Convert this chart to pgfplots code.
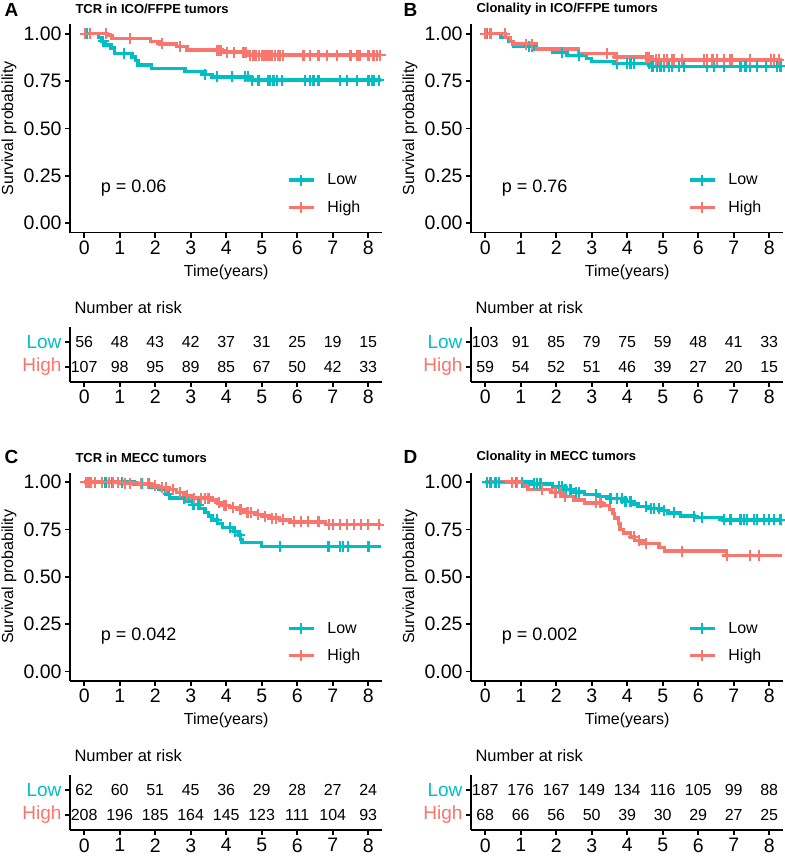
\documentclass[border=0pt]{standalone}
\usepackage{pgfplots}
\pgfplotsset{compat=1.18}
\usepackage{fontspec}
\setmainfont{Liberation Sans}
\definecolor{kmlow}{HTML}{00BFC4}
\definecolor{kmhigh}{HTML}{F8766D}
\newcommand\fs[1]{\fontsize{#1}{#1}\selectfont}

\pgfplotsset{
  base/.style={scale only axis, width=312.4pt, xmin=-0.4, xmax=8.4, clip=false,
    axis lines=left, axis line style={-, line width=1.6pt, black},
    xtick={0,...,8}, tick style={line width=1.6pt, black},
    major tick length=5pt, tick align=outside,
    ticklabel style={font=\fs{19.5}},
    /pgf/number format/assume math mode=true},
  km/.style={base, height=208.2pt, ymin=-0.05, ymax=1.05,
    ytick={0,0.25,0.5,0.75,1}, yticklabels={0.00,0.25,0.50,0.75,1.00},
    xlabel={Time(years)}, ylabel={Survival probability},
    every axis y label/.style={at={(axis description cs:-0.1953,0.5)}, rotate=90, anchor=center, font=\fs{16}},
    every axis x label/.style={at={(axis description cs:0.5,0)}, anchor=center, yshift=-39.5pt, font=\fs{16}},
    every axis title/.style={at={(axis description cs:0,1)}, anchor=west, xshift=2pt, yshift=15pt, font=\fs{13}\bfseries},
    legend style={draw=none, fill=none, inner sep=0pt, at={(axis description cs:0.694,0.292)},
      anchor=north west, font=\fs{16}, row sep=10.5pt, column sep=10pt},
    legend cell align=left,
    legend image code/.code={\draw[mark repeat=2, mark phase=2, #1] plot coordinates {(0pt,0pt) (12.5pt,0pt) (25pt,0pt)};}},
  risk/.style={base, height=55pt, ymin=0.4, ymax=2.6,
    ytick={1,2}, yticklabels={\textcolor{kmhigh}{High},\textcolor{kmlow}{Low}},
    yticklabel style={font=\fs{19}},
    title={Number at risk},
    every axis title/.style={at={(axis description cs:0,1)}, anchor=west, xshift=1pt, yshift=19pt, font=\fs{16.5}},
    nodes near coords, point meta=explicit symbolic,
    nodes near coords align={center},
    every node near coord/.append style={font=\fs{16}, text=black, anchor=center}},
  nums/.style={only marks, mark=o, mark size=0pt, mark options={draw opacity=0}},
  lowline/.style={kmlow, line width=3.4pt, const plot, no markers, forget plot},
  highline/.style={kmhigh, line width=3.4pt, const plot, no markers, forget plot},
  lowcens/.style={kmlow, only marks, mark=+, mark size=5.5pt, line width=2.2pt, forget plot},
  highcens/.style={kmhigh, only marks, mark=+, mark size=5.5pt, line width=2.2pt, forget plot},
  lowkey/.style={kmlow, line width=3.4pt, mark=+, mark size=5.5pt, mark options={line width=2.2pt}},
  highkey/.style={kmhigh, line width=3.4pt, mark=+, mark size=5.5pt, mark options={line width=2.2pt}},
}

\begin{document}
\begin{tikzpicture}
\useasboundingbox (0pt,0pt) rectangle (784pt,-861pt);

% ---------- A ----------
\begin{axis}[km, at={(70pt,-232.5pt)}, anchor=south west, title={TCR in ICO/FFPE tumors}]
\addlegendimage{lowkey}\addlegendentry{Low}
\addlegendimage{highkey}\addlegendentry{High}
\addplot[lowline] coordinates {(0,1)(0.40,0.98)(0.5,0.96)(0.6,0.94)(0.75,0.925)(0.85,0.895)(1.35,0.877)(1.45,0.86)(1.52,0.835)(1.9,0.818)(2.84,0.80)(3.41,0.785)(3.6,0.772)(4.72,0.755)(8.35,0.755)};
\addplot[lowcens] coordinates {(0.07,1)(0.54,0.96)(1.11,0.895)(3.41,0.785)(3.74,0.772)(4.16,0.772)(4.53,0.772)(4.62,0.772)(4.72,0.755)(4.91,0.755)(5.19,0.755)(5.24,0.755)(5.33,0.755)(5.43,0.755)(5.57,0.755)(6.22,0.755)(6.37,0.755)(6.46,0.755)(6.6,0.755)(7.21,0.755)(7.4,0.755)(7.68,0.755)(8.01,0.755)(8.1,0.755)(8.15,0.755)(8.3,0.755)};
\addplot[highline] coordinates {(0,1)(0.66,0.99)(0.78,0.975)(1.86,0.958)(2.14,0.946)(2.6,0.932)(2.9,0.914)(3.9,0.903)(4.6,0.887)(8.35,0.887)};
\addplot[highcens] coordinates {(0.03,1)(0.17,1)(0.62,1)(1.3,0.975)(2.19,0.946)(2.7,0.932)(3.74,0.914)(3.8,0.914)(3.85,0.914)(4.02,0.903)(4.21,0.903)(4.49,0.903)(4.55,0.903)(4.68,0.887)(4.77,0.887)(4.85,0.887)(4.92,0.887)(5.0,0.887)(5.08,0.887)(5.15,0.887)(5.22,0.887)(5.3,0.887)(5.38,0.887)(5.45,0.887)(5.52,0.887)(5.6,0.887)(6.18,0.887)(6.37,0.887)(6.6,0.887)(6.84,0.887)(7.12,0.887)(7.5,0.887)(7.7,0.887)(7.78,0.887)(8.01,0.887)(8.15,0.887)(8.25,0.887)(8.34,0.887)};
\node[anchor=west, font=\fs{18}] at (axis cs:0.37,0.185) {p = 0.06};
\end{axis}
\begin{axis}[risk, at={(70pt,-381.7pt)}, anchor=south west]
\addplot[nums] coordinates {(0,2)[56](1,2)[48](2,2)[43](3,2)[42](4,2)[37](5,2)[31](6,2)[25](7,2)[19](8,2)[15]};
\addplot[nums] coordinates {(0,1)[107](1,1)[98](2,1)[95](3,1)[89](4,1)[85](5,1)[67](6,1)[50](7,1)[42](8,1)[33]};
\end{axis}

% ---------- B ----------
\begin{axis}[km, at={(471pt,-232.5pt)}, anchor=south west, title={Clonality in ICO/FFPE tumors}]
\addlegendimage{lowkey}\addlegendentry{Low}
\addlegendimage{highkey}\addlegendentry{High}
\addplot[lowline] coordinates {(0,1)(0.45,0.98)(0.65,0.96)(0.8,0.935)(1.4,0.92)(1.9,0.90)(2.3,0.885)(2.85,0.87)(3.0,0.853)(3.7,0.843)(4.65,0.828)(8.35,0.828)};
\addplot[lowcens] coordinates {(0.06,1)(0.15,1)(1.23,0.935)(1.32,0.935)(2.17,0.90)(2.64,0.885)(3.72,0.843)(4.0,0.843)(4.09,0.843)(4.19,0.843)(4.61,0.843)(4.71,0.828)(4.85,0.828)(4.94,0.828)(5.03,0.828)(5.17,0.828)(5.27,0.828)(5.46,0.828)(5.6,0.828)(6.25,0.828)(6.44,0.828)(6.72,0.828)(7.19,0.828)(7.33,0.828)(7.47,0.828)(7.66,0.828)(7.9,0.828)(8.23,0.828)(8.32,0.828)};
\addplot[highline] coordinates {(0,1)(0.57,0.98)(0.72,0.96)(0.78,0.945)(1.45,0.92)(2.62,0.895)(3.65,0.877)(4.7,0.862)(8.35,0.862)};
\addplot[highcens] coordinates {(0.01,1)(0.15,1)(0.55,1)(1.14,0.945)(1.32,0.945)(3.44,0.895)(3.72,0.877)(4.52,0.877)(4.56,0.877)(4.61,0.877)(4.8,0.862)(4.9,0.862)(5.03,0.862)(5.13,0.862)(5.27,0.862)(5.31,0.862)(5.55,0.862)(6.16,0.862)(6.25,0.862)(6.4,0.862)(6.54,0.862)(6.72,0.862)(6.91,0.862)(6.96,0.862)(7.47,0.862)(8.04,0.862)(8.13,0.862)(8.27,0.862)};
\node[anchor=west, font=\fs{18}] at (axis cs:0.37,0.185) {p = 0.76};
\end{axis}
\begin{axis}[risk, at={(471pt,-381.7pt)}, anchor=south west]
\addplot[nums] coordinates {(0,2)[103](1,2)[91](2,2)[85](3,2)[79](4,2)[75](5,2)[59](6,2)[48](7,2)[41](8,2)[33]};
\addplot[nums] coordinates {(0,1)[59](1,1)[54](2,1)[52](3,1)[51](4,1)[46](5,1)[39](6,1)[27](7,1)[20](8,1)[15]};
\end{axis}

% ---------- C ----------
\begin{axis}[km, at={(70pt,-680.8pt)}, anchor=south west, title={TCR in MECC tumors}]
\addlegendimage{lowkey}\addlegendentry{Low}
\addlegendimage{highkey}\addlegendentry{High}
\addplot[lowline] coordinates {(0,1)(1.4,0.99)(1.9,0.975)(2.1,0.96)(2.3,0.935)(2.4,0.915)(2.9,0.90)(3.05,0.88)(3.25,0.86)(3.4,0.84)(3.5,0.82)(3.6,0.80)(3.75,0.78)(3.9,0.76)(4.2,0.74)(4.35,0.72)(4.4,0.695)(4.45,0.68)(5.0,0.66)(8.35,0.66)};
\addplot[lowcens] coordinates {(0.3,1)(0.6,1)(0.78,1)(1.06,1)(1.62,0.99)(1.81,0.99)(2.38,0.935)(2.8,0.915)(3.08,0.88)(3.22,0.88)(3.74,0.80)(4.11,0.76)(4.25,0.74)(4.38,0.72)(5.52,0.66)(6.88,0.66)(7.21,0.66)(7.3,0.66)(7.44,0.66)(8.01,0.66)};
\addplot[highline] coordinates {(0,1)(1.0,0.995)(1.5,0.99)(1.9,0.98)(2.1,0.97)(2.4,0.96)(2.6,0.945)(2.8,0.93)(3.0,0.915)(3.6,0.905)(3.75,0.89)(3.9,0.875)(4.1,0.865)(4.3,0.855)(4.5,0.84)(4.8,0.83)(5.0,0.82)(5.2,0.81)(5.5,0.80)(5.8,0.79)(6.8,0.775)(8.35,0.775)};
\addplot[highcens] coordinates {(0.05,1)(0.12,1)(0.2,1)(0.3,1)(0.5,1)(0.7,1)(0.8,1)(0.95,1)(1.15,0.995)(1.3,0.995)(1.6,0.99)(1.8,0.99)(2.0,0.98)(2.2,0.97)(2.3,0.97)(2.5,0.96)(2.7,0.945)(2.9,0.93)(3.1,0.915)(3.3,0.915)(3.4,0.915)(3.5,0.915)(3.8,0.89)(3.95,0.875)(4.0,0.875)(4.2,0.865)(4.4,0.855)(4.6,0.84)(4.7,0.84)(4.9,0.83)(5.1,0.82)(5.3,0.81)(5.4,0.81)(5.6,0.80)(5.9,0.79)(6.1,0.79)(6.3,0.79)(6.6,0.79)(6.9,0.775)(7.0,0.775)(7.2,0.775)(7.4,0.775)(7.6,0.775)(7.8,0.775)(8.0,0.775)(8.3,0.775)};
\node[anchor=west, font=\fs{18}] at (axis cs:0.37,0.185) {p = 0.042};
\end{axis}
\begin{axis}[risk, at={(70pt,-830pt)}, anchor=south west]
\addplot[nums] coordinates {(0,2)[62](1,2)[60](2,2)[51](3,2)[45](4,2)[36](5,2)[29](6,2)[28](7,2)[27](8,2)[24]};
\addplot[nums] coordinates {(0,1)[208](1,1)[196](2,1)[185](3,1)[164](4,1)[145](5,1)[123](6,1)[111](7,1)[104](8,1)[93]};
\end{axis}

% ---------- D ----------
\begin{axis}[km, at={(471pt,-680.8pt)}, anchor=south west, title={Clonality in MECC tumors}]
\addlegendimage{lowkey}\addlegendentry{Low}
\addlegendimage{highkey}\addlegendentry{High}
\addplot[lowline] coordinates {(0,1)(1.3,0.99)(1.9,0.975)(2.2,0.96)(2.5,0.947)(2.8,0.935)(3.2,0.925)(3.5,0.912)(3.9,0.897)(4.1,0.885)(4.3,0.87)(4.6,0.86)(4.9,0.85)(5.15,0.837)(5.5,0.82)(5.9,0.812)(6.7,0.80)(8.35,0.80)};
\addplot[lowcens] coordinates {(0.06,1)(0.15,1)(0.29,1)(0.39,1)(0.86,1)(1.04,1)(1.37,0.99)(1.47,0.99)(1.56,0.99)(2.08,0.975)(2.17,0.975)(2.26,0.96)(2.4,0.96)(2.55,0.947)(2.64,0.947)(3.11,0.935)(3.53,0.912)(3.72,0.912)(3.86,0.912)(3.95,0.897)(4.09,0.897)(4.52,0.87)(4.66,0.86)(4.75,0.86)(4.89,0.86)(5.03,0.85)(5.32,0.837)(5.88,0.82)(6.11,0.812)(6.72,0.80)(6.91,0.80)(7.19,0.80)(7.29,0.80)(7.38,0.80)(7.57,0.80)(7.66,0.80)(7.85,0.80)(7.99,0.80)(8.13,0.80)(8.32,0.80)};
\addplot[highline] coordinates {(0,1)(1.05,0.98)(1.2,0.96)(1.85,0.945)(2.2,0.925)(2.5,0.905)(2.8,0.89)(3.3,0.875)(3.5,0.855)(3.6,0.835)(3.65,0.81)(3.75,0.78)(3.8,0.75)(3.9,0.73)(4.1,0.71)(4.2,0.69)(4.5,0.675)(4.9,0.655)(5.05,0.635)(6.8,0.612)(8.35,0.612)};
\addplot[highcens] coordinates {(0.76,1)(0.9,1)(1.61,0.96)(1.98,0.945)(2.12,0.945)(2.25,0.925)(3.11,0.89)(3.25,0.89)(4.19,0.71)(4.33,0.69)(4.52,0.675)(5.55,0.635)(6.82,0.612)(7.47,0.612)(7.71,0.612)};
\node[anchor=west, font=\fs{18}] at (axis cs:0.37,0.185) {p = 0.002};
\end{axis}
\begin{axis}[risk, at={(471pt,-830pt)}, anchor=south west]
\addplot[nums] coordinates {(0,2)[187](1,2)[176](2,2)[167](3,2)[149](4,2)[134](5,2)[116](6,2)[105](7,2)[99](8,2)[88]};
\addplot[nums] coordinates {(0,1)[68](1,1)[66](2,1)[56](3,1)[50](4,1)[39](5,1)[30](6,1)[29](7,1)[27](8,1)[25]};
\end{axis}

% panel letters
\node[anchor=west, font=\fs{19}\bfseries] at (1pt,-10pt) {A};
\node[anchor=west, font=\fs{19}\bfseries] at (400pt,-10pt) {B};
\node[anchor=west, font=\fs{19}\bfseries] at (1pt,-457pt) {C};
\node[anchor=west, font=\fs{19}\bfseries] at (400pt,-457pt) {D};
\end{tikzpicture}
\end{document}
